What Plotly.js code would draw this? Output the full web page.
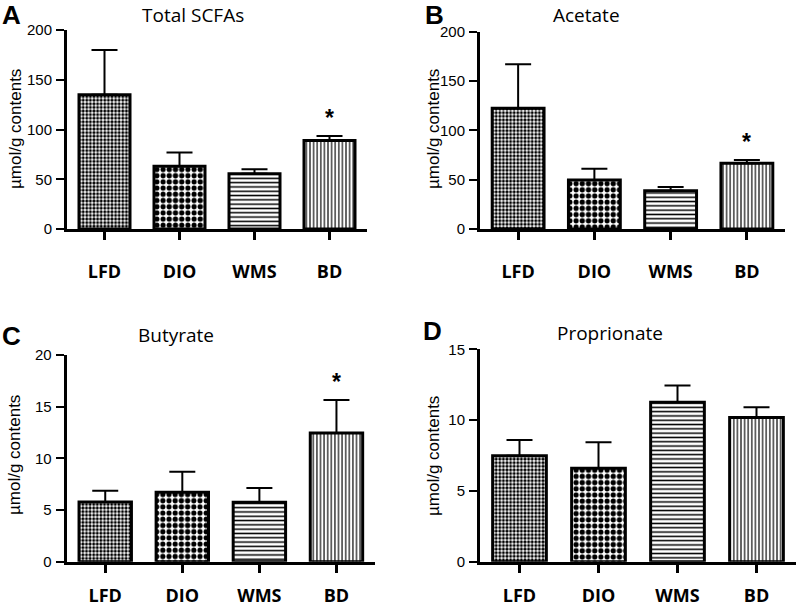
<!DOCTYPE html>
<html>
<head>
<meta charset="utf-8">
<script src="https://cdn.plot.ly/plotly-3.0.1.min.js"></script>
<style>html,body{margin:0;padding:0;background:#fff;}#chart{width:800px;height:607px;}</style>
</head>
<body>
<div id="chart"></div>
<script>
// ---- data ----
var groups = ["LFD", "DIO", "WMS", "BD"];

var totalMean = [135, 63, 55.5, 89];
var totalErr  = [45, 14, 4.5, 4.5];
var totalSig  = [false, false, false, true];

var acetateMean = [122.3, 49.7, 38.8, 66.6];
var acetateErr  = [44.7, 11.3, 3.8, 3.4];
var acetateSig  = [false, false, false, true];

var butyrateMean = [5.78, 6.72, 5.75, 12.46];
var butyrateErr  = [1.09, 1.99, 1.38, 3.19];
var butyrateSig  = [false, false, false, true];

var propMean = [7.49, 6.6, 11.26, 10.18];
var propErr  = [1.11, 1.84, 1.18, 0.73];
var propSig  = [false, false, false, false];

var panelTitles = ["Total SCFAs", "Acetate", "Butyrate", "Proprionate"];
var panelLetters = ["A", "B", "C", "D"];
var yTickVals = [[0, 50, 100, 150, 200], [0, 50, 100, 150, 200], [0, 5, 10, 15, 20], [0, 5, 10, 15]];
var yRanges = [[0, 200], [0, 200], [0, 20], [0, 15]];
var yTitle = "µmol/g contents";

// ---- styling ----
var patternShapes = [".", ".", "-", "|"];
var patternSizes = [3.6, 6.2, 4.3, 3.6];
var patternSolid = [0.55, 0.55, 0.35, 0.32];

var means = [totalMean, acetateMean, butyrateMean, propMean];
var errs = [totalErr, acetateErr, butyrateErr, propErr];
var sigs = [totalSig, acetateSig, butyrateSig, propSig];

var W = 800, H = 607;
// panel geometry in pixels: [xLeft, xRight, yTop, yBottom]
var geo = [
  [67, 367, 30, 229],
  [480, 785, 31.7, 229],
  [66.7, 375, 355, 561.7],
  [480, 796, 349.3, 561.7]
];
var labelStandoff = [16, 16, 8, 8];
var titlePos = [[193, 15], [586, 15], [176, 335], [610, 333]];
var letterPos = [[11, 15], [435, 15], [11, 336], [432, 331]];
var yTitlePos = [[15, 129], [433, 129], [15, 455], [433, 456]];

var traces = [];
var layout = {
  width: W, height: H,
  margin: {l: 0, r: 0, t: 0, b: 0},
  paper_bgcolor: "#fff", plot_bgcolor: "#fff",
  showlegend: false,
  annotations: []
};

for (var i = 0; i < 4; i++) {
  var sfx = i === 0 ? "" : String(i + 1);
  var g = geo[i];
  traces.push({
    type: "bar",
    x: groups,
    y: means[i],
    xaxis: "x" + sfx,
    yaxis: "y" + sfx,
    width: 0.68,
    marker: {
      color: "#fff",
      line: {color: "#000", width: 3},
      pattern: {
        shape: patternShapes,
        size: patternSizes,
        solidity: patternSolid,
        fgcolor: "#000",
        bgcolor: "#fff",
        fillmode: "replace"
      }
    },
    error_y: {
      type: "data",
      array: errs[i],
      arrayminus: [0, 0, 0, 0],
      symmetric: false,
      visible: true,
      color: "#000",
      thickness: 2,
      width: 13
    },
    hoverinfo: "skip"
  });

  layout["xaxis" + sfx] = {
    domain: [g[0] / W, g[1] / W],
    range: [-0.5, 3.5],
    anchor: "y" + sfx,
    showline: true, linecolor: "#000", linewidth: 3,
    ticks: "outside", ticklen: 8, tickwidth: 3, tickcolor: "#000",
    tickfont: {family: "Open Sans, Arial, sans-serif", size: 18, color: "#000", weight: "bold"},
    ticklabelstandoff: labelStandoff[i],
    showgrid: false, zeroline: false, fixedrange: true
  };
  layout["yaxis" + sfx] = {
    domain: [1 - g[3] / H, 1 - g[2] / H],
    range: yRanges[i],
    anchor: "x" + sfx,
    tickvals: yTickVals[i],
    showline: true, linecolor: "#000", linewidth: 3,
    ticks: "outside", ticklen: 8, tickwidth: 2, tickcolor: "#000",
    tickfont: {family: "Liberation Sans, Arial, sans-serif", size: 15, color: "#000"},
    ticklabelstandoff: 1,
    showgrid: false, zeroline: false, fixedrange: true
  };

  layout.annotations.push({
    xref: "paper", yref: "paper",
    x: titlePos[i][0] / W, y: 1 - titlePos[i][1] / H,
    xanchor: "center", yanchor: "middle",
    text: panelTitles[i], showarrow: false,
    font: {family: "Open Sans, sans-serif", size: 19, color: "#000"}
  });
  layout.annotations.push({
    xref: "paper", yref: "paper",
    x: letterPos[i][0] / W, y: 1 - letterPos[i][1] / H,
    xanchor: "center", yanchor: "middle",
    text: "<b>" + panelLetters[i] + "</b>", showarrow: false,
    font: {family: "Liberation Sans, Arial, sans-serif", size: 26, color: "#000"}
  });
  layout.annotations.push({
    xref: "paper", yref: "paper",
    x: yTitlePos[i][0] / W, y: 1 - yTitlePos[i][1] / H,
    xanchor: "center", yanchor: "middle", textangle: -90,
    text: yTitle, showarrow: false,
    font: {family: "Liberation Sans, Arial, sans-serif", size: 17, color: "#000"}
  });
  for (var k = 0; k < groups.length; k++) {
    if (sigs[i][k]) {
      layout.annotations.push({
        xref: "x" + sfx, yref: "y" + sfx,
        x: groups[k], y: means[i][k] + errs[i][k],
        xanchor: "center", yanchor: "bottom", yshift: 3,
        text: "<b>*</b>", showarrow: false,
        font: {family: "Liberation Sans, Arial, sans-serif", size: 23, color: "#000"}
      });
    }
  }
}

Plotly.newPlot("chart", traces, layout, {staticPlot: true, displayModeBar: false});
</script>
</body>
</html>
